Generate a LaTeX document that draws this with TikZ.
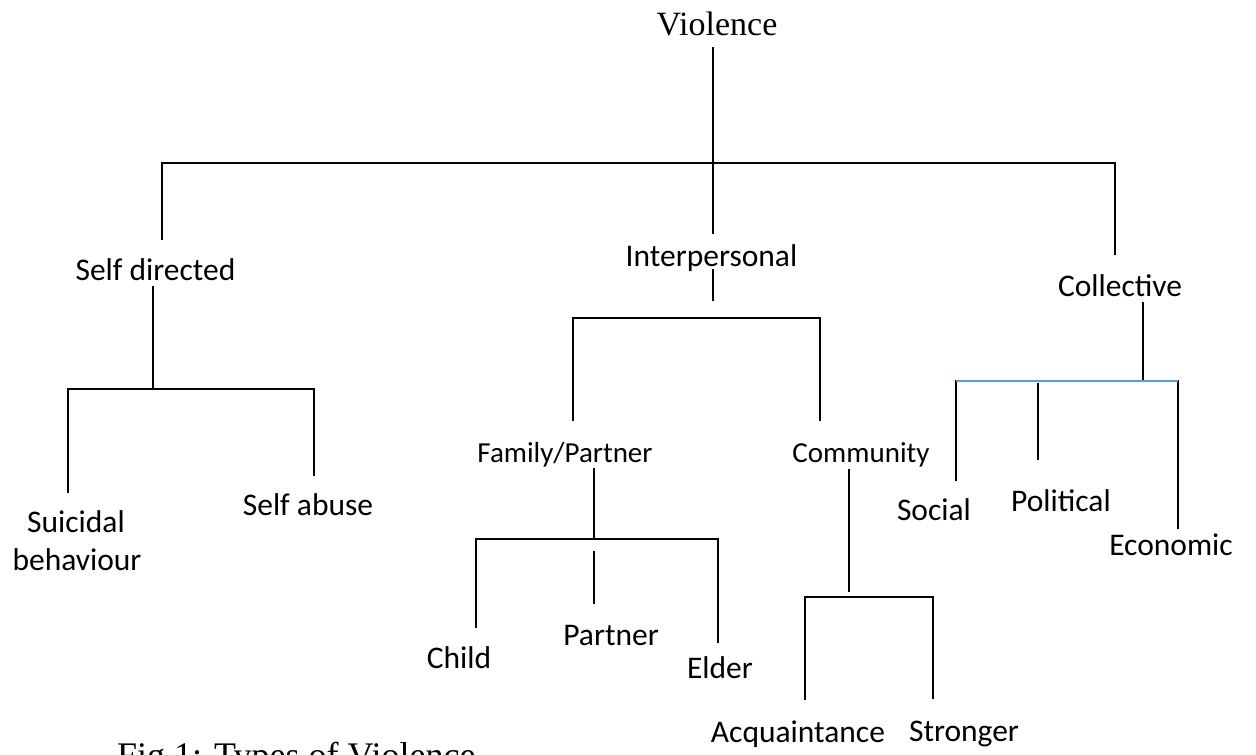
\documentclass[tikz,border=0pt]{standalone}
\usepackage{fontspec}
\setmainfont{Carlito}
\newfontfamily\timesf{Liberation Serif}
\definecolor{lineblue}{HTML}{5B9BD5}
\begin{document}
\begin{tikzpicture}[x=1pt,y=-1pt,
  lbl/.style={anchor=base,inner sep=0pt,font=\fontsize{31.5}{38}\selectfont},
  sml/.style={anchor=base,inner sep=0pt,font=\fontsize{29}{35}\selectfont},
  ser/.style={anchor=base,inner sep=0pt,font=\timesf\fontsize{34}{40}\selectfont},
  conn/.style={line width=2pt,line cap=rect},
  bconn/.style={line width=2pt,draw=lineblue}]
\useasboundingbox (0,0) rectangle (1256,755);
\clip (0,0) rectangle (1256,755);
\fill[white] (0,0) rectangle (1256,755);

% labels
\node[ser] (vio) at (717,35) {Violence};
\node[lbl] (self) at (155.5,280) {Self directed};
\node[lbl] (inter) at (711.5,266) {Interpersonal};
\node[lbl] (coll) at (1120,296) {Collective};
\node[sml] (fam) at (565,462) {Family/Partner};
\node[sml] (comm) at (861,462) {Community};
\node[lbl] (sui) at (76,532) {Suicidal};
\node[lbl] (beh) at (77,570) {behaviour};
\node[lbl] (sab) at (308,515) {Self abuse};
\node[lbl] (child) at (459,668) {Child};
\node[lbl] (partner) at (611,645) {Partner};
\node[lbl] (elder) at (720,678) {Elder};
\node[lbl] (acq) at (798,742) {Acquaintance};
\node[lbl] (str) at (964,741) {Stronger};
\node[lbl] (soc) at (934,520) {Social};
\node[lbl] (pol) at (1061,511) {Political};
\node[lbl] (eco) at (1171,555) {Economic};
\node[ser,anchor=base west,font=\timesf\fontsize{36}{42}\selectfont] (cap) at (117,767) {Fig 1: Types of Violence};

% junction coordinates
\coordinate (v0) at (713,48);   \coordinate (v1) at (713,233);
\coordinate (tl) at (162,163);  \coordinate (tr) at (1115,163);
\coordinate (tlb) at (162,239); \coordinate (trb) at (1115,254);

\coordinate (s0) at (153,287);  \coordinate (s1) at (153,389);
\coordinate (sl) at (68,389);   \coordinate (sr) at (314,389);
\coordinate (slb) at (68,492);  \coordinate (srb) at (314,475);

\coordinate (i0) at (713,270);  \coordinate (i1) at (713,300);
\coordinate (il) at (573,318);  \coordinate (ir) at (820,318);
\coordinate (ilb) at (573,420); \coordinate (irb) at (820,420);

\coordinate (f0) at (594,469);  \coordinate (f1) at (594,539);
\coordinate (fl) at (476,539);  \coordinate (fr) at (718,539);
\coordinate (flb) at (476,627); \coordinate (frb) at (718,642);
\coordinate (fm0) at (594,552); \coordinate (fm1) at (594,603);

\coordinate (c0) at (849,470);  \coordinate (c1) at (849,591);
\coordinate (cl) at (805,597);  \coordinate (cr) at (933,597);
\coordinate (clb) at (805,699); \coordinate (crb) at (933,698);

\coordinate (k0) at (1143,303); \coordinate (k1) at (1143,381);
\coordinate (kl) at (956,381);  \coordinate (kr) at (1178,381);
\coordinate (klb) at (956,480); \coordinate (krb) at (1178,528);
\coordinate (km0) at (1038,384); \coordinate (km1) at (1038,459);

% connectors
\draw[conn] (v0) -- (v1);
\draw[conn] (tlb) -- (tl) -- (tr) -- (trb);

\draw[conn] (s0) -- (s1);
\draw[conn] (slb) -- (sl) -- (sr) -- (srb);

\draw[conn] (i0) -- (i1);
\draw[conn] (ilb) -- (il) -- (ir) -- (irb);

\draw[conn] (f0) -- (f1);
\draw[conn] (flb) -- (fl) -- (fr) -- (frb);
\draw[conn] (fm0) -- (fm1);

\draw[conn] (c0) -- (c1);
\draw[conn] (clb) -- (cl) -- (cr) -- (crb);

\draw[conn] (k0) -- (k1);
\draw[conn] (kl) -- (klb);
\draw[conn] (kr) -- (krb);
\draw[conn] (km0) -- (km1);
\draw[bconn] (kl) -- (kr);
\end{tikzpicture}
\end{document}
